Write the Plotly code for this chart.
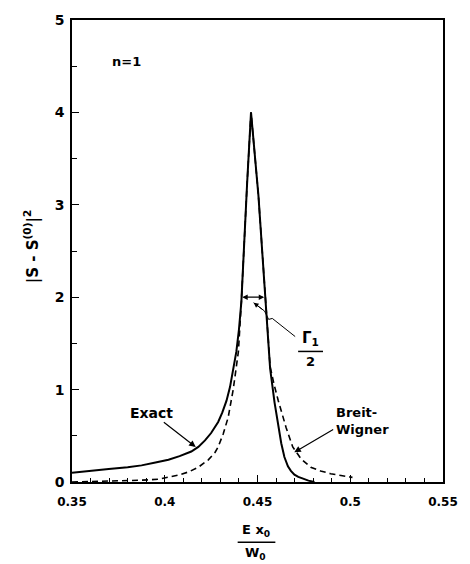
import plotly.graph_objects as go

# ---- data ----
exact_x = [0.3500, 0.3591, 0.3698, 0.3800, 0.3875, 0.3950, 0.4020, 0.4080, 0.4143,
           0.4181, 0.4217, 0.4250, 0.4288, 0.4310, 0.4333, 0.4352, 0.4369, 0.4386,
           0.4400, 0.4413, 0.4444, 0.4465, 0.4505, 0.4536, 0.4552, 0.4568, 0.4592,
           0.4610, 0.4628, 0.4645, 0.4664, 0.4680, 0.4699, 0.4720, 0.4744, 0.4775,
           0.4807]
exact_y = [0.10, 0.115, 0.14, 0.16, 0.18, 0.21, 0.24, 0.28, 0.33,
           0.38, 0.45, 0.53, 0.65, 0.75, 0.88, 1.03, 1.20, 1.41,
           1.65, 1.95, 3.23, 4.00, 3.10, 2.16, 1.70, 1.23, 0.86,
           0.62, 0.42, 0.27, 0.17, 0.12, 0.08, 0.055, 0.035, 0.015,
           0.00]

bw_x = [0.3500, 0.3645, 0.3790, 0.3880, 0.3966, 0.4020, 0.4074, 0.4130, 0.4181,
        0.4235, 0.4271, 0.4288, 0.4315, 0.4342, 0.4369, 0.4397, 0.4413, 0.4444,
        0.4465, 0.4505, 0.4536, 0.4552, 0.4568, 0.4590, 0.4612, 0.4654, 0.4690,
        0.4735, 0.4787, 0.4840, 0.4894, 0.4950, 0.5012]
bw_y = [0.00, 0.005, 0.01, 0.02, 0.03, 0.05, 0.075, 0.11, 0.16,
        0.24, 0.32, 0.38, 0.52, 0.70, 1.00, 1.41, 1.95, 3.23,
        4.00, 3.10, 2.16, 1.70, 1.25, 1.05, 0.88, 0.59, 0.38,
        0.25, 0.16, 0.12, 0.09, 0.07, 0.05]

x_tickvals = [0.35, 0.40, 0.45, 0.50, 0.55]
x_ticktext = ["0.35", "0.4", "0.45", "0.5", "0.55"]
y_tickvals = [0, 1, 2, 3, 4, 5]
y_ticktext = ["0", "1", "2", "3", "4", "5"]

FONT = "DejaVu Sans"
W = "bold"

fig = go.Figure()
fig.add_trace(go.Scatter(x=exact_x, y=exact_y, mode="lines",
                         line=dict(color="black", width=2),
                         name="Exact", showlegend=False))
fig.add_trace(go.Scatter(x=bw_x, y=bw_y, mode="lines",
                         line=dict(color="black", width=1.6, dash="6px,4px"),
                         name="Breit-Wigner", showlegend=False))

# zig-zag pointer for Gamma/2
fig.add_trace(go.Scatter(x=[0.4703, 0.4580, 0.4560, 0.4538, 0.4479],
                         y=[1.574, 1.77, 1.76, 1.85, 1.94], mode="lines",
                         line=dict(color="black", width=1), showlegend=False,
                         hoverinfo="skip"))

ann = []
ann.append(dict(x=0.3794, y=4.55, text="n=1", showarrow=False,
                font=dict(family=FONT, size=13, color="black", weight=W)))
ann.append(dict(x=0.4167, y=0.378, ax=0.3987, ay=0.66, axref="x", ayref="y",
                text="", showarrow=True, arrowhead=2, arrowsize=1.1, arrowwidth=1.2,
                arrowcolor="black"))
ann.append(dict(x=0.3928, y=0.75, text="Exact", showarrow=False,
                font=dict(family=FONT, size=14, color="black", weight=W)))
ann.append(dict(x=0.4698, y=0.321, ax=0.4916, ay=0.578, axref="x", ayref="y",
                text="", showarrow=True, arrowhead=2, arrowsize=1.1, arrowwidth=1.2,
                arrowcolor="black"))
ann.append(dict(x=0.4913, y=0.66, text="Breit-<br>Wigner", showarrow=False,
                xanchor="left", align="left",
                font=dict(family=FONT, size=13, color="black", weight=W)))
# double arrow Gamma/2
ann.append(dict(x=0.4536, y=2.0, ax=0.4410, ay=2.0, axref="x", ayref="y",
                text="", showarrow=True, arrowhead=2, startarrowhead=2,
                arrowside="end+start", arrowsize=0.9, startarrowsize=0.9,
                arrowwidth=1.2, arrowcolor="black"))
ann.append(dict(x=0.4479, y=1.94, ax=0.4538, ay=1.85, axref="x", ayref="y",
                text="", showarrow=True, arrowhead=2, arrowsize=1, arrowwidth=1,
                arrowcolor="black"))
ann.append(dict(x=0.4786, y=1.55, text="Γ<sub>1</sub>", showarrow=False,
                font=dict(family=FONT, size=15, color="black", weight=W)))
ann.append(dict(x=0.4786, y=1.30, text="2", showarrow=False,
                font=dict(family=FONT, size=13, color="black", weight=W)))
# axis titles
ann.append(dict(xref="paper", yref="paper", x=-0.142, y=0.51, textangle=-90,
                text="|S - S<sup>(0)</sup>|<sup>2</sup>", showarrow=False,
                font=dict(family=FONT, size=15, color="black", weight=W)))
LINE_Y = (482 - 543) / 467
ann.append(dict(xref="paper", yref="paper", x=(257 - 72) / 374, y=LINE_Y + 0.002,
                yanchor="bottom",
                text="E x<sub>0</sub>", showarrow=False,
                font=dict(family=FONT, size=13, color="black", weight=W)))
ann.append(dict(xref="paper", yref="paper", x=(257 - 72) / 374, y=LINE_Y - 0.002,
                yanchor="top",
                text="W<sub>0</sub>", showarrow=False,
                font=dict(family=FONT, size=13, color="black", weight=W)))

shapes = [
    dict(type="line", xref="paper", yref="paper",
         x0=(239 - 72) / 374, x1=(277 - 72) / 374, y0=LINE_Y, y1=LINE_Y,
         line=dict(color="black", width=1.5)),
    dict(type="line", xref="x", yref="y", x0=0.4719, x1=0.4853, y0=1.413, y1=1.413,
         line=dict(color="black", width=1.5)),
]

fig.update_layout(
    width=470, height=564,
    margin=dict(l=72, r=24, t=15, b=82),
    paper_bgcolor="white", plot_bgcolor="white",
    annotations=ann, shapes=shapes,
    font=dict(family=FONT, color="black"),
)
fig.update_xaxes(range=[0.35, 0.55], tickvals=x_tickvals, ticktext=x_ticktext,
                 ticks="inside", ticklen=7, tickwidth=1.3, tickcolor="black",
                 minor=dict(dtick=0.01, tick0=0.35, ticks="inside", ticklen=4,
                            tickcolor="black", tickwidth=1),
                 showline=True, linecolor="black", linewidth=1.6, mirror=True,
                 showgrid=False, zeroline=False, ticklabelstandoff=8,
                 tickfont=dict(family=FONT, size=12, color="black", weight=W))
fig.update_yaxes(range=[0, 5], tickvals=y_tickvals, ticktext=y_ticktext,
                 ticks="inside", ticklen=7, tickwidth=1.3, tickcolor="black",
                 minor=dict(dtick=0.5, tick0=0, ticks="inside", ticklen=5,
                            tickcolor="black", tickwidth=1),
                 showline=True, linecolor="black", linewidth=1.6, mirror=True,
                 showgrid=False, zeroline=False, ticklabelstandoff=3,
                 tickfont=dict(family=FONT, size=14, color="black", weight=W))

fig.write_html("out.html")
